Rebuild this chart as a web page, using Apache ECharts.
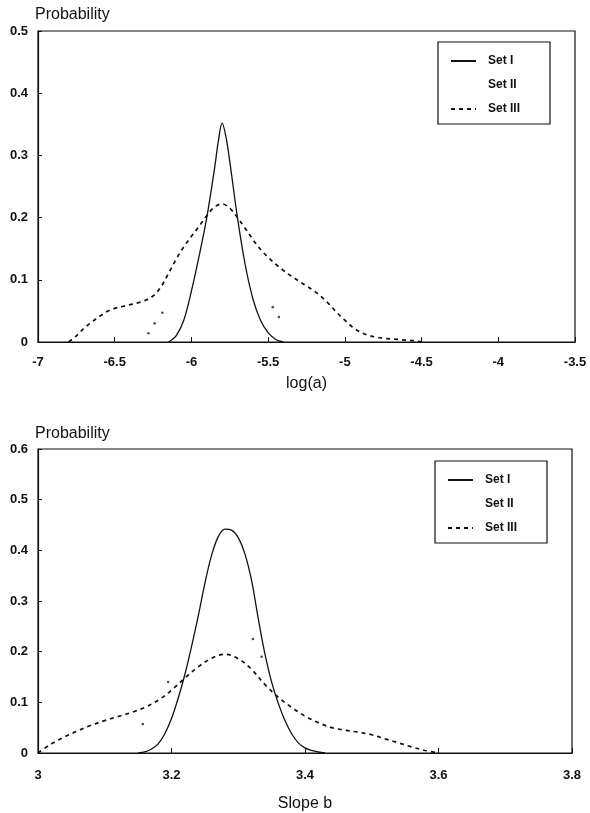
<!DOCTYPE html>
<html>
<head>
<meta charset="utf-8">
<script src="https://cdn.jsdelivr.net/npm/echarts@6/dist/echarts.min.js"></script>
<style>
html,body{margin:0;padding:0;background:#fff;}
#chart{width:590px;height:813px;}
</style>
</head>
<body>
<div id="chart"></div>
<script>
// top panel: log(a)
var logA_set1 = [
	[-6.15,0],[-6.1,0.01],[-6.05,0.035],[-6.0,0.082],[-5.95,0.138],[-5.9,0.2],[-5.85,0.278],
	[-5.825,0.322],[-5.8,0.352],[-5.775,0.33],[-5.75,0.29],[-5.7,0.2],[-5.65,0.125],
	[-5.6,0.07],[-5.55,0.035],[-5.5,0.015],[-5.45,0.004],[-5.4,0]
];
var logA_set2 = [[-6.28,0.014],[-6.24,0.03],[-6.19,0.047],[-5.47,0.056],[-5.43,0.04]];
var logA_set3 = [
	[-6.8,0],[-6.75,0.01],[-6.7,0.022],[-6.65,0.032],[-6.6,0.041],[-6.55,0.049],[-6.5,0.054],
	[-6.45,0.057],[-6.4,0.06],[-6.35,0.063],[-6.3,0.067],[-6.25,0.074],[-6.2,0.088],
	[-6.15,0.11],[-6.1,0.133],[-6.05,0.153],[-6.0,0.17],[-5.95,0.186],[-5.9,0.203],
	[-5.85,0.217],[-5.8,0.222],[-5.75,0.215],[-5.7,0.2],[-5.65,0.183],[-5.6,0.165],
	[-5.55,0.149],[-5.5,0.136],[-5.45,0.125],[-5.4,0.115],[-5.35,0.106],[-5.3,0.098],
	[-5.25,0.09],[-5.2,0.082],[-5.15,0.072],[-5.1,0.06],[-5.05,0.047],[-5.0,0.035],
	[-4.95,0.024],[-4.9,0.016],[-4.85,0.011],[-4.8,0.008],[-4.75,0.006],[-4.7,0.005],
	[-4.65,0.004],[-4.6,0.003],[-4.55,0.002],[-4.5,0]
];
// bottom panel: slope b
var slope_set1 = [
	[3.15,0],[3.16,0.002],[3.17,0.008],[3.18,0.018],[3.19,0.038],[3.2,0.068],[3.21,0.108],
	[3.22,0.155],[3.23,0.21],[3.24,0.27],[3.25,0.335],[3.26,0.39],[3.27,0.427],[3.28,0.442],
	[3.29,0.44],[3.3,0.425],[3.31,0.393],[3.32,0.34],[3.33,0.265],[3.34,0.195],[3.35,0.14],
	[3.36,0.098],[3.37,0.064],[3.38,0.038],[3.39,0.02],[3.4,0.01],[3.41,0.005],[3.42,0.002],[3.43,0]
];
var slope_set2 = [[3.157,0.057],[3.195,0.14],[3.322,0.225],[3.335,0.19]];
var slope_set3 = [
	[3.0,0],[3.02,0.018],[3.04,0.032],[3.06,0.044],[3.08,0.055],[3.1,0.064],[3.12,0.072],
	[3.14,0.08],[3.16,0.09],[3.18,0.104],[3.2,0.124],[3.22,0.148],[3.24,0.17],[3.26,0.187],
	[3.28,0.195],[3.3,0.186],[3.32,0.165],[3.34,0.135],[3.36,0.11],[3.38,0.09],[3.4,0.073],
	[3.42,0.06],[3.44,0.05],[3.46,0.045],[3.48,0.041],[3.5,0.036],[3.52,0.028],[3.54,0.02],
	[3.56,0.012],[3.58,0.005],[3.6,0]
];
var legendNames = ['Set I','Set II','Set III'];

var font = 'Liberation Sans';
var ink = '#111';

function xAxisCfg(grid,min,max,step,name,gap,margin){
	return {
		type:'value', gridIndex:grid, min:min, max:max, interval:step,
		name:name, nameLocation:'middle', nameGap:gap,
		nameTextStyle:{fontFamily:font,fontSize:16,color:ink},
		axisLine:{lineStyle:{color:ink,width:1.2}},
		axisTick:{inside:true,length:5,lineStyle:{color:ink}},
		axisLabel:{margin:margin,fontFamily:font,fontSize:13,fontWeight:'bold',color:ink},
		splitLine:{show:false}
	};
}
function yAxisCfg(grid,max,gap){
	return {
		type:'value', gridIndex:grid, min:0, max:max, interval:0.1,
		name:'Probability', nameLocation:'end', nameGap:gap,
		nameTextStyle:{fontFamily:font,fontSize:16,color:ink,align:'left',padding:[0,0,0,-3]},
		axisLine:{show:true,lineStyle:{color:ink,width:1.2}},
		axisTick:{show:true,inside:true,length:4,lineStyle:{color:ink}},
		axisLabel:{margin:10,fontFamily:font,fontSize:13,fontWeight:'bold',color:ink,
			formatter:function(v){return v===0?'0':v.toFixed(1);}},
		splitLine:{show:false}
	};
}
function lineSeries(name,data,xi,dash){
	return {
		name:name, type:'line', xAxisIndex:xi, yAxisIndex:xi, data:data,
		symbol:'none', smooth:0.35, animation:false,
		itemStyle:{color:ink},
		lineStyle:{color:ink,width:dash?1.7:1.3,type:dash?[4,4]:'solid'}
	};
}
function dotSeries(name,data,xi){
	return {
		name:name, type:'scatter', xAxisIndex:xi, yAxisIndex:xi, data:data,
		symbolSize:2.6, itemStyle:{color:'#222'}, animation:false
	};
}
function legendCfg(left,top){
	return {
		orient:'vertical', left:left, top:top,
		borderColor:ink, borderWidth:1.2, borderRadius:0,
		padding:[13,30,9,12], itemGap:11, itemWidth:25, itemHeight:14,
		itemStyle:{opacity:0},
		textStyle:{fontFamily:font,fontSize:12,fontWeight:'bold',color:ink,padding:[0,0,0,7]},
		selectedMode:false,
		data:[
			{name:legendNames[0]},
			{name:legendNames[1],icon:'rect',itemStyle:{opacity:0}},
			{name:legendNames[2]}
		]
	};
}

var myChart = echarts.init(document.getElementById('chart'));
var option = {
	backgroundColor:'#fff',
	grid:[
		{left:38,top:31,width:537,height:311,show:true,borderColor:ink,borderWidth:1.2,backgroundColor:'transparent'},
		{left:38,top:449,width:534,height:308,show:true,borderColor:ink,borderWidth:1.2,backgroundColor:'transparent'}
	],
	xAxis:[
		xAxisCfg(0,-7,-3.5,0.5,'log(a)',34,14),
		xAxisCfg(1,3,3.8,0.2,'Slope b',43,16)
	],
	yAxis:[yAxisCfg(0,0.5,8),yAxisCfg(1,0.6,7)],
	legend:[legendCfg(438,42),legendCfg(435,461)],
	series:[
		lineSeries(legendNames[0],logA_set1,0,false),
		dotSeries(legendNames[1],logA_set2,0),
		lineSeries(legendNames[2],logA_set3,0,true),
		lineSeries(legendNames[0],slope_set1,1,false),
		dotSeries(legendNames[1],slope_set2,1),
		lineSeries(legendNames[2],slope_set3,1,true)
	]
};
myChart.setOption(option);
</script>
</body>
</html>
